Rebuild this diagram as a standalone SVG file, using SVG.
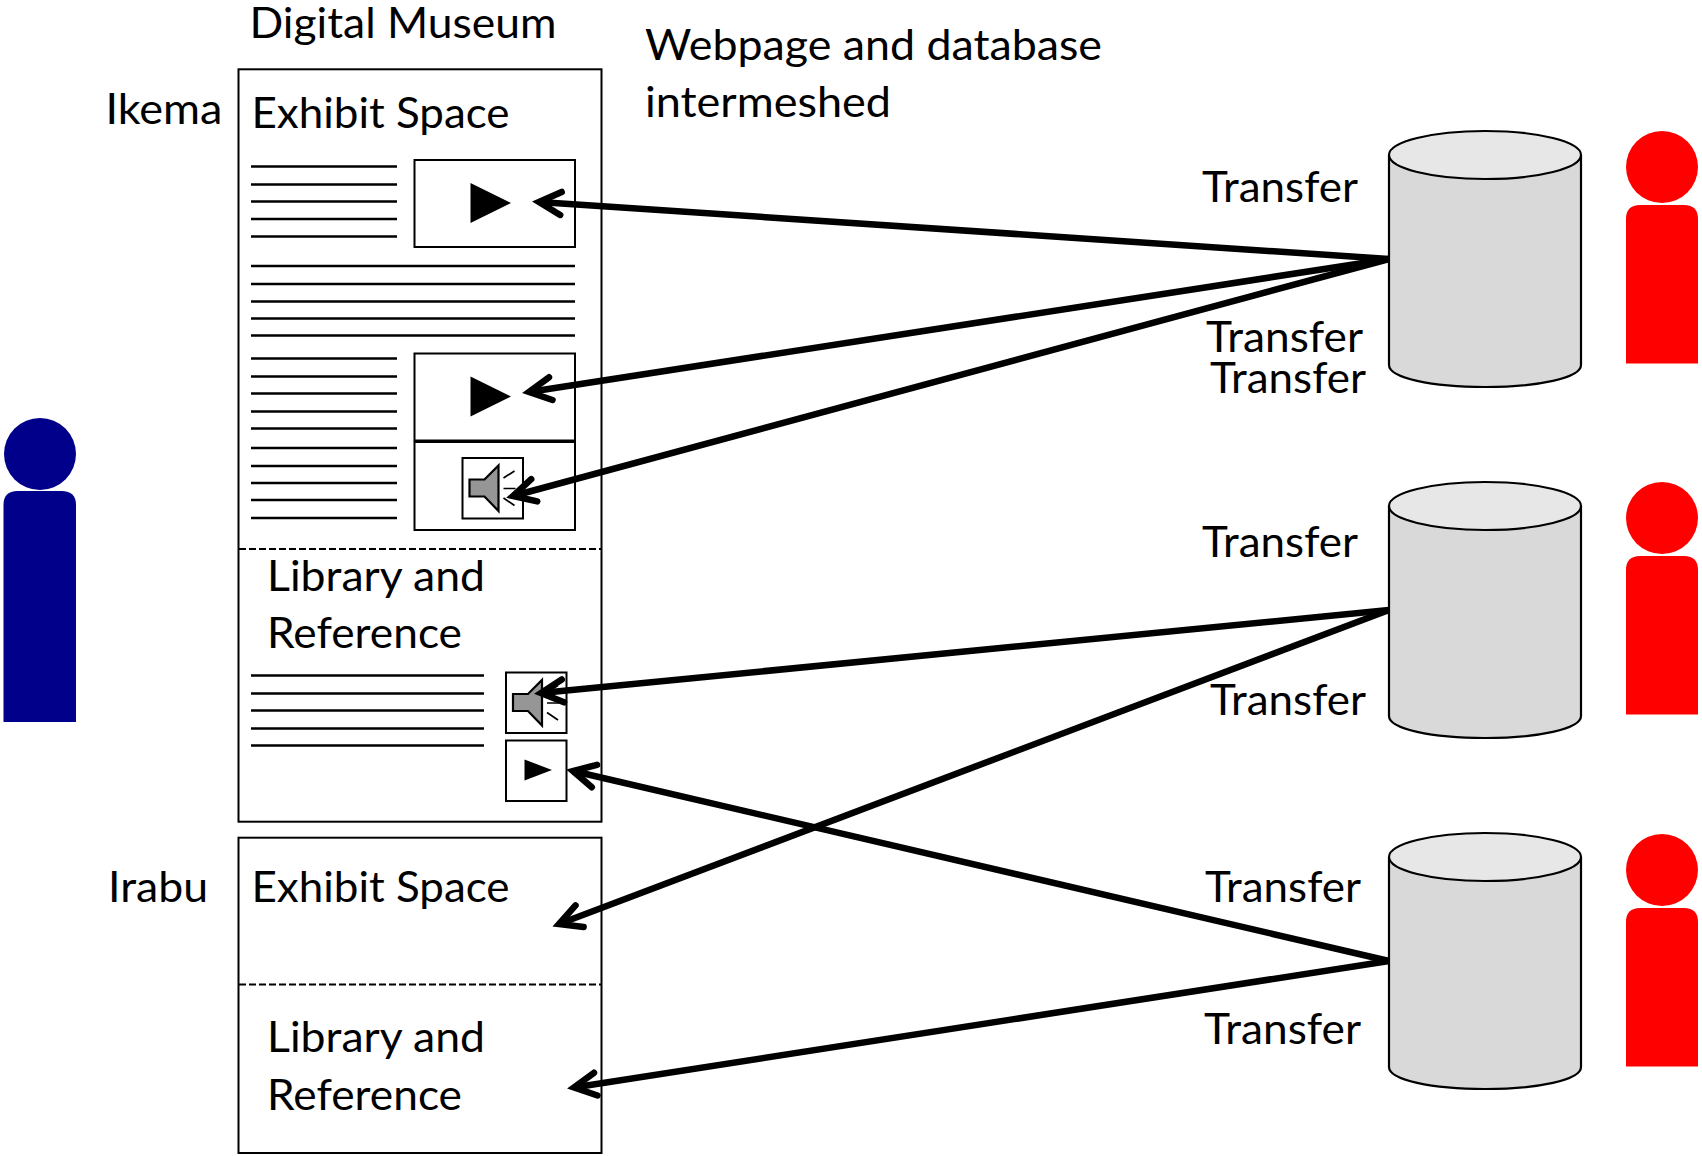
<svg xmlns="http://www.w3.org/2000/svg" xmlns:xlink="http://www.w3.org/1999/xlink" width="1702" height="1156" viewBox="0 0 1702 1156">
<style>
text{font-family:"Lato","Open Sans","Liberation Sans",sans-serif;font-size:42px;fill:#000}
.box{fill:none;stroke:#000;stroke-width:2}
.bx{fill:#fff;stroke:#000;stroke-width:2}
.dash{stroke:#000;stroke-width:2.2;stroke-dasharray:7 3;fill:none}
.tl{stroke:#000;stroke-width:2.6;fill:none}
.conn{stroke:#000;stroke-width:6.500;fill:none;marker-end:url(#arrow)}
.cyl{fill:#d9d9d9;stroke:#000;stroke-width:2.200}
.cylt{fill:#e7e7e7;stroke:#000;stroke-width:2.200}
.red{fill:#f00}.blue{fill:#00008b}
</style>
<defs>
<marker id="arrow" markerUnits="userSpaceOnUse" viewBox="-30 -18 40 36" refX="0" refY="0" markerWidth="40" markerHeight="36" orient="auto">
<path d="M-22,-11.500 L0,0 L-22,11.500" fill="none" stroke="#000" stroke-width="6.500" stroke-linecap="round" stroke-linejoin="miter"/>
</marker>
<g id="speaker">
<rect class="bx" x="0" y="0" width="60.500" height="60.500"/>
<path d="M7,21.500 H22 L36,7.500 V53 L22,38.500 H7 Z" fill="#969696" stroke="#000" stroke-width="2.200"/>
<path d="M41,20 L52,13 M41,30.500 H53 M41,40 L52,47.500" stroke="#000" stroke-width="1.700" fill="none"/>
</g>
<path id="cyl" d="M0,24 V234 C0,247 43,256 96,256 C149,256 192,247 192,234 V24"/>
<g id="person"><circle cx="36" cy="36" r="36"/><path d="M0,88 Q0,74 14,74 H58 Q72,74 72,88 V232.500 H0 Z"/></g>
</defs>

<g id="page-ikema">
<rect class="box" x="238.500" y="69.300" width="363" height="752.400"/>
<text x="251.500" y="128" textLength="258" lengthAdjust="spacingAndGlyphs">Exhibit Space</text>
<path class="tl" d="M251,166.500H397M251,184.500H397M251,201.500H397M251,219H397M251,236.500H397M251,266H575M251,284H575M251,301.500H575M251,318.500H575M251,335.500H575M251,358.500H397M251,376.500H397M251,393.500H397M251,411.500H397M251,428.500H397M251,448H397M251,466H397M251,483H397M251,500H397M251,518H397"/>
<line class="dash" x1="239" y1="549" x2="601" y2="549"/>
<text x="267" y="591" textLength="218" lengthAdjust="spacingAndGlyphs">Library and</text>
<text x="267" y="648" textLength="195" lengthAdjust="spacingAndGlyphs">Reference</text>
<path class="tl" d="M251,675.500H484M251,693.500H484M251,710.500H484M251,728.500H484M251,745.500H484"/>
</g>
<g id="video-1"><rect class="bx" x="414.500" y="160" width="160.500" height="87"/><path d="M470.500,183 L511,203 L470.500,223 Z"/></g>
<g id="video-2"><rect class="bx" x="414.500" y="353.500" width="160.500" height="87"/><path d="M470.500,376.500 L511,396.500 L470.500,416.500 Z"/></g>
<g id="audio-1"><rect class="bx" x="414.500" y="442" width="160.500" height="88"/><use href="#speaker" x="462.500" y="458"/></g>
<g id="audio-2"><use href="#speaker" x="506" y="672.500"/></g>
<g id="video-3"><rect class="bx" x="506" y="740.500" width="60.500" height="60.500"/><path d="M524.500,759.500 L552,770 L524.500,780.500 Z"/></g>
<g id="page-irabu">
<rect class="box" x="238.500" y="837.700" width="363" height="315.300"/>
<text x="251.500" y="902" textLength="258" lengthAdjust="spacingAndGlyphs">Exhibit Space</text>
<line class="dash" x1="239" y1="984.500" x2="601" y2="984.500"/>
<text x="267" y="1052" textLength="218" lengthAdjust="spacingAndGlyphs">Library and</text>
<text x="267" y="1110" textLength="195" lengthAdjust="spacingAndGlyphs">Reference</text>
</g>

<g id="label-museum"><text x="249.500" y="38" textLength="307" lengthAdjust="spacingAndGlyphs">Digital Museum</text></g>
<g id="label-webpage"><text x="645" y="60" textLength="457" lengthAdjust="spacingAndGlyphs">Webpage and database</text><text x="645" y="117" textLength="246" lengthAdjust="spacingAndGlyphs">intermeshed</text></g>
<g id="label-ikema"><text x="105.500" y="123.500" textLength="117" lengthAdjust="spacingAndGlyphs">Ikema</text></g>
<g id="label-irabu"><text x="108" y="902" textLength="100" lengthAdjust="spacingAndGlyphs">Irabu</text></g>

<g id="db-1"><use href="#cyl" x="1389" y="131" class="cyl"/><ellipse class="cylt" cx="1485" cy="155" rx="96" ry="24"/></g>
<g id="db-2"><use href="#cyl" x="1389" y="482" class="cyl"/><ellipse class="cylt" cx="1485" cy="506" rx="96" ry="24"/></g>
<g id="db-3"><use href="#cyl" x="1389" y="833" class="cyl"/><ellipse class="cylt" cx="1485" cy="857" rx="96" ry="24"/></g>

<g id="person-1" class="red"><use href="#person" x="1626" y="131"/></g>
<g id="person-2" class="red"><use href="#person" x="1626" y="482"/></g>
<g id="person-3" class="red"><use href="#person" x="1626" y="834"/></g>
<g id="person-visitor" class="blue"><circle cx="40" cy="454" r="36"/><path d="M3.500,505 Q3.500,491 17.500,491 H61.500 Q76,491 76,505 V722 H3.500 Z"/></g>

<g id="transfer-labels">
<text x="1202" y="202" textLength="156" lengthAdjust="spacingAndGlyphs">Transfer</text>
<text x="1206" y="352" textLength="157" lengthAdjust="spacingAndGlyphs">Transfer</text>
<text x="1210" y="393" textLength="156" lengthAdjust="spacingAndGlyphs">Transfer</text>
<text x="1202" y="557" textLength="156" lengthAdjust="spacingAndGlyphs">Transfer</text>
<text x="1210" y="715" textLength="156" lengthAdjust="spacingAndGlyphs">Transfer</text>
<text x="1205" y="902" textLength="156" lengthAdjust="spacingAndGlyphs">Transfer</text>
<text x="1204" y="1044" textLength="157" lengthAdjust="spacingAndGlyphs">Transfer</text>
</g>

<g id="connectors">
<line class="conn" x1="1389" y1="259" x2="539" y2="202"/>
<line class="conn" x1="1389" y1="259" x2="529" y2="392"/>
<line class="conn" x1="1389" y1="259" x2="513" y2="496"/>
<line class="conn" x1="1389" y1="610" x2="541" y2="693"/>
<line class="conn" x1="1389" y1="610" x2="559" y2="924"/>
<line class="conn" x1="1389" y1="961" x2="573" y2="771"/>
<line class="conn" x1="1389" y1="961" x2="574" y2="1087.500"/>
</g>
</svg>
